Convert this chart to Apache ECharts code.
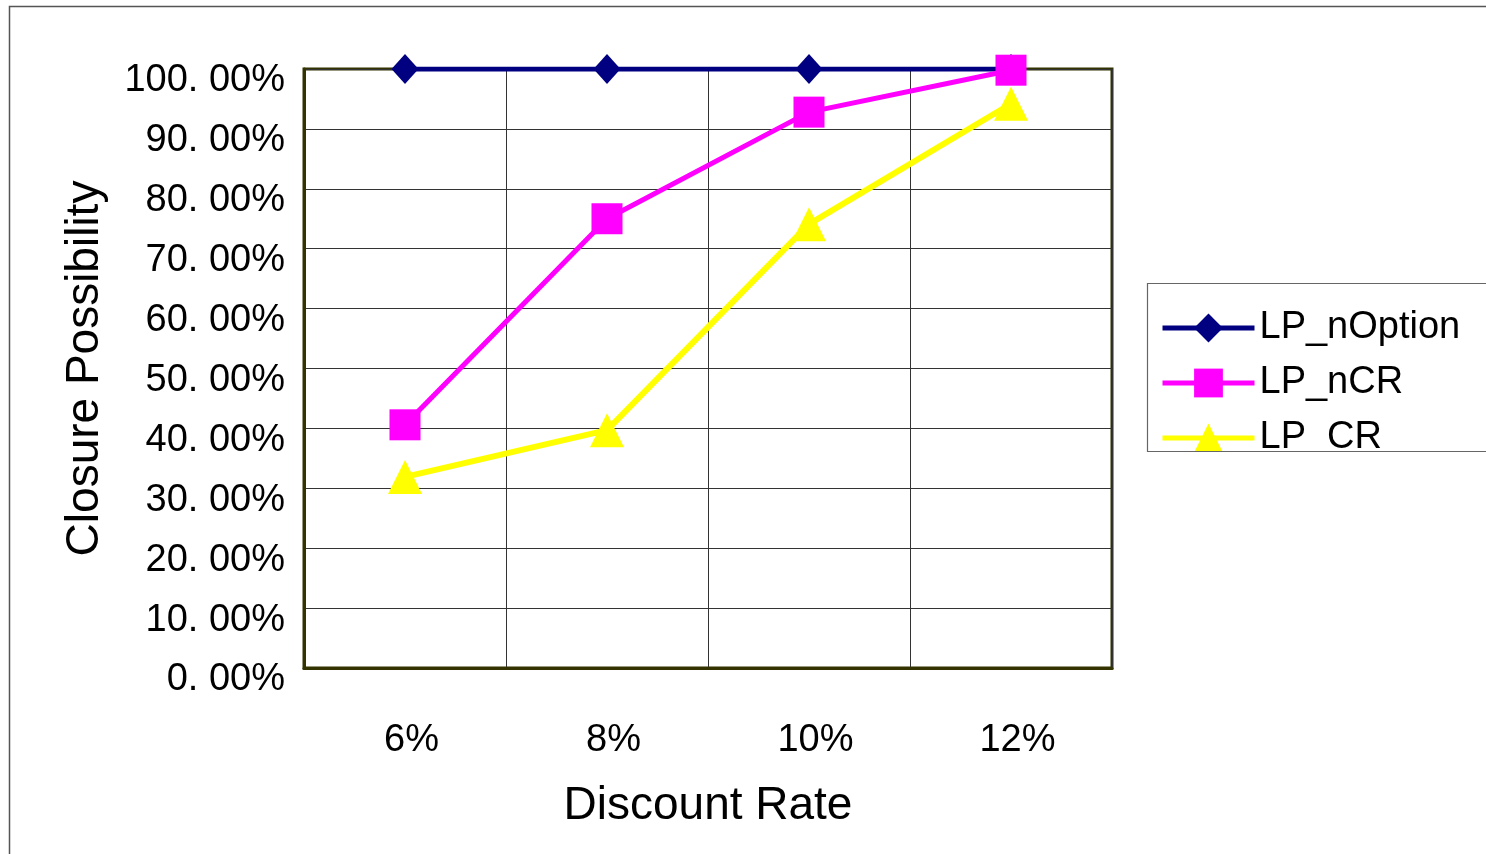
<!DOCTYPE html>
<html>
<head>
<meta charset="utf-8">
<script src="https://cdn.jsdelivr.net/npm/echarts@6/dist/echarts.min.js"></script>
<style>html,body{margin:0;padding:0;background:#fff}#c{width:1486px;height:854px}</style>
</head>
<body>
<div id="c"></div>
<script>
const categories = ['6%', '8%', '10%', '12%'];
const seriesNames = ['LP_nOption', 'LP_nCR', 'LP_CR'];
const lpNOption = [100, 100, 100, 100];
const lpNCR = [40.6, 75.0, 92.8, 99.8];
const lpCR = [31.9, 39.7, 74.1, 94.2];
const yTicks = [0, 10, 20, 30, 40, 50, 60, 70, 80, 90, 100];

const FONT = '"Liberation Sans", Arial, sans-serif';
const chart = echarts.init(document.getElementById('c'), null, {renderer: 'canvas'});
chart.setOption({
  animation: false,
  backgroundColor: '#fff',
  grid: {left: 304, top: 69, right: 374, bottom: 186, show: true, borderColor: '#333300', borderWidth: 3, backgroundColor: '#fff'},
  legend: {
    orient: 'vertical', left: 1160, top: 308, padding: 0,
    itemWidth: 92, itemHeight: 36, itemGap: 15, itemTextGap: 10,
    lineStyle: {width: 5},
    textStyle: {fontFamily: FONT, fontSize: 38, color: '#000', lineHeight: 40},
    data: seriesNames
  },
  xAxis: {
    type: 'category', data: categories, boundaryGap: true,
    name: 'Discount Rate', nameLocation: 'middle', nameGap: 115,
    nameTextStyle: {fontFamily: FONT, fontSize: 46, color: '#000'},
    axisLine: {show: true, lineStyle: {color: '#333300', width: 3}},
    axisTick: {show: false},
    axisLabel: {fontFamily: FONT, fontSize: 38, color: '#000', margin: 54, padding: [0, 0, 0, 13]},
    splitLine: {show: true, interval: 0, lineStyle: {color: '#333', width: 1}}
  },
  yAxis: {
    type: 'value', min: 0, max: 100, interval: 10,
    name: 'Closure Possibility', nameLocation: 'middle', nameRotate: 90, nameGap: 196,
    nameTextStyle: {fontFamily: FONT, fontSize: 46, color: '#000'},
    axisLine: {show: true, lineStyle: {color: '#333300', width: 3}},
    axisTick: {show: false},
    axisLabel: {fontFamily: FONT, fontSize: 38, color: '#000', margin: 19, verticalAlign: 'top', lineHeight: 24,
      formatter: v => yTicks.indexOf(v) >= 0 ? (v.toFixed(2).replace('.', '. ') + '%') : ''},
    splitLine: {show: true, lineStyle: {color: '#333', width: 1}}
  },
  series: [
    {name: seriesNames[0], type: 'line', data: lpNOption, symbol: 'diamond', symbolSize: [27, 30],
     lineStyle: {color: '#000080', width: 5}, itemStyle: {color: '#000080'}},
    {name: seriesNames[1], type: 'line', data: lpNCR, symbol: 'rect', symbolSize: 31,
     lineStyle: {color: '#ff00ff', width: 5}, itemStyle: {color: '#ff00ff'}},
    {name: seriesNames[2], type: 'line', data: lpCR, symbol: 'triangle', symbolSize: [34, 34],
     lineStyle: {color: '#ffff00', width: 6}, itemStyle: {color: '#ffff00'}}
  ],
  graphic: [
    {type: 'rect', z: 100, silent: true, shape: {x: 1147, y: 452, width: 400, height: 30}, style: {fill: '#fff'}},
    {type: 'rect', z: 101, silent: true, shape: {x: 1147.5, y: 283.5, width: 400, height: 168}, style: {fill: 'none', stroke: '#666', lineWidth: 1.2}},
    {type: 'rect', z: 101, silent: true, shape: {x: 9.5, y: 6.5, width: 1600, height: 1000}, style: {fill: 'none', stroke: '#555', lineWidth: 1.5}}
  ]
});
</script>
</body>
</html>
